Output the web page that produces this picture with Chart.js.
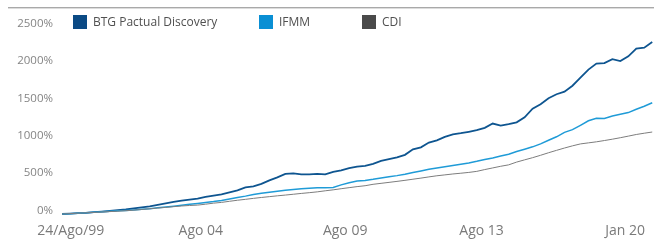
<!DOCTYPE html>
<html>
<head>
<meta charset="utf-8">
<script src="https://cdn.jsdelivr.net/npm/chart.js@4.4.1/dist/chart.umd.min.js"></script>
<style>
    html, body { margin: 0; padding: 0; background: #fff; }
    #wrap { position: relative; width: 654px; height: 246px; }
    #rule { position: absolute; left: 8px; right: 0; top: 7px; height: 1px; background: #a9a9a9; border-bottom: 1px solid #dcdcdc; }
    #legend { position: absolute; top: 15px; left: 73px; font-family: "Open Sans", sans-serif; font-size: 12px; color: #505050; }
    #legend span.item { position: absolute; white-space: nowrap; line-height: 14px; }
    #legend span.box { display: inline-block; width: 14px; height: 14px; vertical-align: top; margin-right: 6px; }
</style>
</head>
<body>
<div id="wrap">
    <div id="rule"></div>
    <canvas id="chart" width="654" height="246"></canvas>
    <div id="legend"></div>
</div>
<script>
// Cumulative return (%), sampled at regular steps from 24/Ago/99 to the last date
const btg = [0, 5, 11, 16, 24, 32, 40, 50, 60, 74, 88, 103, 121, 141, 161, 178, 193, 206, 228, 247,
    261, 288, 315, 355, 369, 402, 449, 489, 536, 543, 529, 529, 536, 529, 563, 583, 612, 634, 643, 670,
    710, 733, 758, 791, 864, 891, 955, 985, 1032, 1065, 1080, 1099, 1120, 1152, 1209, 1183, 1202, 1226, 1293, 1407,
    1467, 1548, 1601, 1635, 1715, 1822, 1930, 2010, 2017, 2070, 2044, 2108, 2211, 2224, 2298];
const ifmm = [0, 5, 11, 16, 23, 29, 36, 42, 48, 55, 62, 70, 82, 94, 105, 117, 129, 141, 153, 166,
    182, 201, 220, 239, 261, 276, 291, 304, 316, 327, 338, 344, 352, 350, 355, 389, 419, 440, 449, 464,
    482, 497, 513, 532, 556, 576, 598, 616, 632, 649, 666, 683, 704, 728, 750, 775, 800, 836, 866, 898,
    938, 986, 1032, 1092, 1128, 1186, 1246, 1280, 1276, 1309, 1333, 1356, 1400, 1441, 1487];
const cdi = [0, 5, 11, 16, 21, 27, 32, 38, 44, 52, 60, 70, 79, 88, 98, 107, 114, 119, 131, 145,
    155, 170, 184, 196, 209, 221, 232, 243, 253, 264, 275, 285, 296, 310, 323, 338, 352, 366, 378, 397,
    410, 423, 436, 450, 465, 480, 496, 511, 523, 535, 545, 556, 570, 594, 616, 638, 657, 694, 724, 753,
    785, 819, 851, 882, 911, 937, 951, 965, 982, 1000, 1020, 1041, 1063, 1080, 1096];

const seriesNames = ['BTG Pactual Discovery', 'IFMM', 'CDI'];

// x-axis labels and the sample index where each one sits
const xTickLabels = ['24/Ago/99', 'Ago 04', 'Ago 09', 'Ago 13', 'Jan 20'];
const xTickIndex = [1.1, 17.4, 35.5, 52.6, 70.6];

const yTicks = [0, 500, 1000, 1500, 2000, 2500];

const lineColors = ['#0e5590', '#1f9bd7', '#7d7d7d'];
const boxColors = ['#0b4a84', '#0a8fd4', '#4a4a4a'];

function toPoints(arr) {
    return arr.map((v, i) => ({ x: i, y: v }));
}

const datasets = [btg, ifmm, cdi].map((arr, k) => ({
    label: seriesNames[k],
    data: toPoints(arr),
    borderColor: lineColors[k],
    borderWidth: k === 0 ? 1.8 : (k === 1 ? 1.5 : 1),
    pointRadius: 0,
    tension: 0,
    fill: false,
    clip: false
}));
// draw CDI first, BTG on top
datasets.reverse();

const ctx = document.getElementById('chart').getContext('2d');

new Chart(ctx, {
    type: 'line',
    data: { datasets: datasets },
    options: {
        responsive: false,
        animation: false,
        layout: { padding: { top: 27, right: 0, bottom: 0, left: 0 } },
        plugins: {
            legend: { display: false },
            tooltip: { enabled: false }
        },
        scales: {
            x: {
                type: 'linear',
                min: 0,
                max: btg.length - 1,
                grid: { display: false, drawTicks: false },
                border: { display: false },
                afterBuildTicks: (scale) => {
                    scale.ticks = xTickIndex.map(v => ({ value: v }));
                },
                afterFit: (scale) => { scale.height = 32; },
                ticks: {
                    autoSkip: false,
                    maxRotation: 0,
                    padding: 9,
                    color: '#7a7a7a',
                    font: { family: 'Open Sans', size: 14 },
                    callback: (value, index) => xTickLabels[index]
                }
            },
            y: {
                min: 0,
                max: 2500,
                grid: { display: false, drawTicks: false },
                border: { display: false },
                afterBuildTicks: (scale) => {
                    scale.ticks = yTicks.map(v => ({ value: v }));
                },
                afterFit: (scale) => { scale.width = 62; },
                ticks: {
                    padding: 9,
                    labelOffset: -3.5,
                    color: '#858585',
                    font: { family: 'Open Sans', size: 11.5 },
                    callback: (value) => value + '%'
                }
            }
        }
    }
});

// Legend
const legendLefts = [0, 186, 289];
const legendDiv = document.getElementById('legend');
seriesNames.forEach((name, k) => {
    const item = document.createElement('span');
    item.className = 'item';
    item.style.left = legendLefts[k] + 'px';
    item.innerHTML = '<span class="box" style="background:' + boxColors[k] + '"></span>' + name;
    legendDiv.appendChild(item);
});
</script>
</body>
</html>
